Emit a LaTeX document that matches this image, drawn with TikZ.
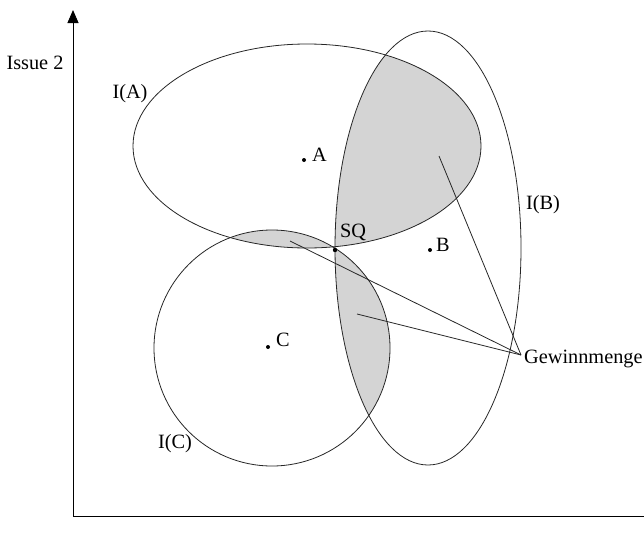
\documentclass[tikz,border=0pt]{standalone}
\usepackage{fontspec}
\setmainfont{Liberation Serif}
\usetikzlibrary{arrows.meta}
\begin{document}
\begin{tikzpicture}[x=1pt,y=-1pt,
  curve/.style={draw=black!85, line width=0.8pt},
  lab/.style={font=\fontsize{20.3}{23}\selectfont, inner sep=0pt},
  conn/.style={draw=black!85, line width=0.8pt},
  win/.style={fill=black!17}]
\useasboundingbox (0,0) rectangle (644,549);
% shaded win set
\begin{scope}
  \clip (307,146) ellipse [x radius=174pt, y radius=102pt];
  \fill[win] (428,248) ellipse [x radius=93pt, y radius=217pt];
\end{scope}
\begin{scope}
  \clip (272,348) circle [radius=118pt];
  \fill[win] (428,248) ellipse [x radius=93pt, y radius=217pt];
\end{scope}
\begin{scope}
  \clip (307,146) ellipse [x radius=174pt, y radius=102pt];
  \fill[win] (272,348) circle [radius=118pt];
\end{scope}
% outlines
\draw[curve] (307,146) ellipse [x radius=174pt, y radius=102pt];
\draw[curve] (428,248) ellipse [x radius=93pt, y radius=217pt];
\draw[curve] (272,348) circle [radius=118pt];
% axes
\coordinate (O) at (73,516);
\coordinate (ytop) at (73,10);
\coordinate (xend) at (644,516);
\draw[line width=0.9pt, -{Triangle[length=13pt,width=11pt]}] (O) -- (ytop);
\draw[line width=0.9pt] (O) -- (xend);
% points
\fill (304,160) circle [radius=2pt] coordinate (pA);
\fill (430,250) circle [radius=2pt] coordinate (pB);
\fill (268,347) circle [radius=2pt] coordinate (pC);
\fill (335,250) circle [radius=2.2pt] coordinate (pSQ);
\node[lab, anchor=west] (lA) at (312,155) {A};
\node[lab, anchor=west] (lB) at (436,245) {B};
\node[lab, anchor=west] (lC) at (276,340) {C};
\node[lab, anchor=west] (lSQ) at (340,232) {SQ};
% labels
\node[lab] (issue) at (35,63) {Issue 2};
\node[lab] (IA) at (130,94) {I(A)};
\node[lab] (IB) at (543,205) {I(B)};
\node[lab] (IC) at (175,444) {I(C)};
\node[lab, anchor=west] (gw) at (524,359) {Gewinnmenge};
% connectors
\coordinate (g) at (521,355);
\coordinate (wAB) at (439,156);
\coordinate (wAC) at (290,241);
\coordinate (wBC) at (357,314);
\draw[conn] (wAB) -- (g);
\draw[conn] (wAC) -- (g);
\draw[conn] (wBC) -- (g);
\end{tikzpicture}
\end{document}
